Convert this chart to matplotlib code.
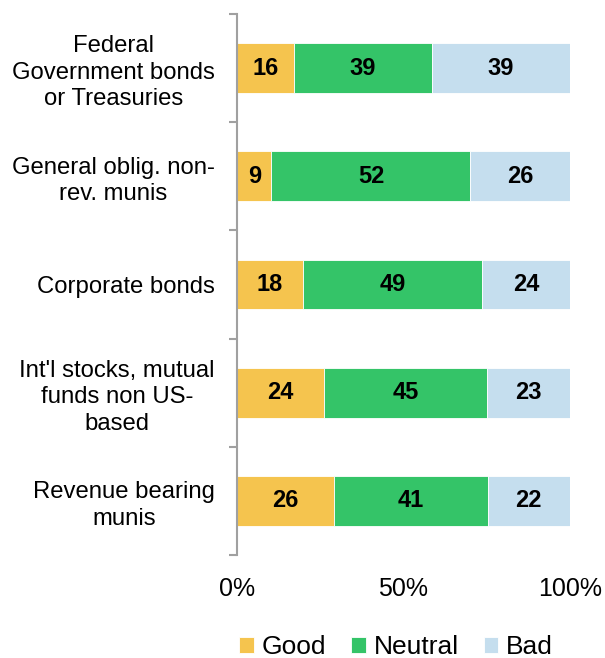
import numpy as np
import matplotlib.pyplot as plt
from matplotlib.ticker import FixedLocator, PercentFormatter

plt.rcParams['font.family'] = ['Liberation Sans', 'DejaVu Sans']

categories = [
    "Federal\nGovernment bonds\nor Treasuries",
    "General oblig. non-\nrev. munis",
    "Corporate bonds",
    "Int'l stocks, mutual\nfunds non US-\nbased",
    "Revenue bearing\nmunis",
]
good = [16, 9, 18, 24, 26]
neutral = [39, 52, 49, 45, 41]
bad = [39, 26, 24, 23, 22]

series = [("Good", good, "#F5C44E"),
          ("Neutral", neutral, "#34C468"),
          ("Bad", bad, "#C5DEEE")]

totals = np.array(good) + np.array(neutral) + np.array(bad)
y = np.arange(len(categories))

fig = plt.figure(figsize=(6.05, 6.58), dpi=100)
ax = fig.add_axes([237 / 605, 1 - 555 / 658, 333 / 605, 541 / 658])

left = np.zeros(len(categories))
for name, vals, color in series:
    share = np.array(vals) / totals * 100
    ax.barh(y, share, left=left, height=0.46, color=color, label=name,
            edgecolor='white', linewidth=0.6)
    for yi, l, w, v in zip(y, left, share, vals):
        ax.text(l + w / 2, yi, str(v), ha='center', va='center',
                fontsize=17, fontweight='bold', color='black')
    left += share

ax.set_xlim(0, 100)
ax.set_ylim(len(categories) - 0.5, -0.5)
ax.set_xticks([0, 50, 100])
ax.xaxis.set_major_formatter(PercentFormatter(decimals=0))
ax.tick_params(axis='x', length=0, pad=16, labelsize=18)

ax.set_yticks(y)
ax.set_yticklabels(categories, fontsize=17.2, ha='right',
                   multialignment='center', linespacing=1.25)
ax.yaxis.set_minor_locator(FixedLocator(np.arange(-0.5, len(categories), 1)))
ax.tick_params(axis='y', which='major', length=0, pad=16)
ax.tick_params(axis='y', which='minor', length=6, width=1.5, color='#A0A0A0',
               direction='out')

for side in ['top', 'right', 'bottom']:
    ax.spines[side].set_visible(False)
ax.spines['left'].set_color('#A0A0A0')
ax.spines['left'].set_linewidth(1.5)

fig.legend(loc='center', bbox_to_anchor=(396 / 605, 1 - 647 / 658), ncol=3,
           frameon=False, fontsize=19, handlelength=0.55, handleheight=0.55,
           handletextpad=0.3, columnspacing=0.95, borderpad=0)

fig.savefig("out.png", dpi=100)
